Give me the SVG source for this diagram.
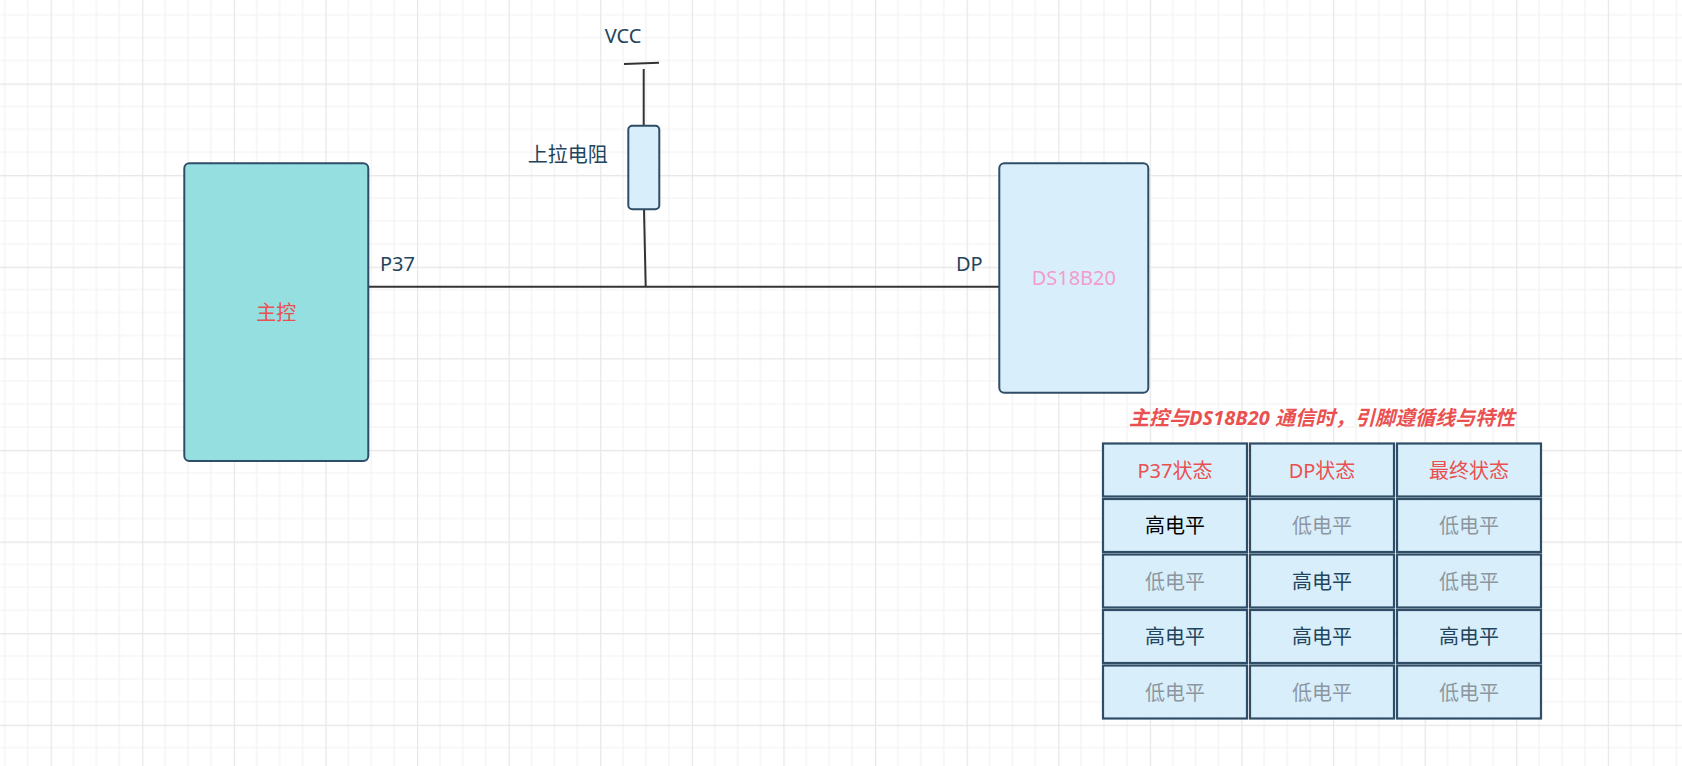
<svg xmlns="http://www.w3.org/2000/svg" width="1682" height="766" viewBox="0 0 1682 766">
<style>
.t{font-family:"Noto Sans","Noto Sans CJK SC",sans-serif;font-size:20px}
.lbl{fill:#23445d}
.red{fill:#ea5050}
.gray{fill:#8c96a0}
.dk{fill:#23445d}
.blk{fill:#000000}
.box{stroke:#2f4d66;stroke-width:2}
.cell{fill:#d8effb;stroke:#2f4d66;stroke-width:2.2}
.wire{stroke:#333333;stroke-width:2;fill:none}
</style>
<defs>
<pattern id="grid" patternUnits="userSpaceOnUse" x="50.6" y="83.5" width="91.6" height="91.6">
<rect width="91.6" height="91.6" fill="#ffffff"/>
<path d="M22.9 0V91.6M45.8 0V91.6M68.7 0V91.6M0 22.9H91.6M0 45.8H91.6M0 68.7H91.6" stroke="#f2f2f2" stroke-width="1.2"/>
<path d="M0.5 0V91.6M0 0.5H91.6" stroke="#e6e6e6" stroke-width="1.3"/>
</pattern>
</defs>
<rect width="1682" height="766" fill="url(#grid)"/>

<g id="connectors">
<line class="wire" x1="368.3" y1="286.7" x2="999.3" y2="286.7"/>
<line class="wire" x1="624" y1="64" x2="659" y2="62.7"/>
<line class="wire" x1="643.7" y1="69" x2="643.7" y2="125.7"/>
<line class="wire" x1="644" y1="209.3" x2="645.7" y2="286.7"/>
</g>

<g id="node-main">
<rect class="box" x="184.3" y="163.3" width="184" height="297.7" rx="5" fill="#95dfe1"/>
<text class="t red" x="276.3" y="320" text-anchor="middle">主控</text>
</g>

<g id="node-ds18b20">
<rect class="box" x="999.3" y="163.3" width="149" height="229.4" rx="5" fill="#d8effb"/>
<text class="t" x="1073.8" y="285" text-anchor="middle" fill="#f29ccb">DS18B20</text>
</g>

<g id="node-resistor">
<rect class="box" x="628.3" y="125.7" width="31" height="83.6" rx="4" fill="#d8effb"/>
</g>

<g id="labels">
<text class="t lbl" x="623" y="43" text-anchor="middle">VCC</text>
<text class="t lbl" x="607.7" y="161.6" text-anchor="end">上拉电阻</text>
<text class="t lbl" x="380" y="270.7">P37</text>
<text class="t lbl" x="956" y="271">DP</text>
</g>

<g id="table">
<text class="t red" x="1322" y="424.5" text-anchor="middle" font-weight="bold" font-style="italic">主控与DS18B20 通信时，引脚遵循线与特性</text>
<rect class="cell" x="1103" y="443.5" width="144" height="53"/>
<rect class="cell" x="1250" y="443.5" width="144" height="53"/>
<rect class="cell" x="1397" y="443.5" width="144" height="53"/>
<rect class="cell" x="1103" y="499" width="144" height="53"/>
<rect class="cell" x="1250" y="499" width="144" height="53"/>
<rect class="cell" x="1397" y="499" width="144" height="53"/>
<rect class="cell" x="1103" y="554.5" width="144" height="53"/>
<rect class="cell" x="1250" y="554.5" width="144" height="53"/>
<rect class="cell" x="1397" y="554.5" width="144" height="53"/>
<rect class="cell" x="1103" y="610" width="144" height="53"/>
<rect class="cell" x="1250" y="610" width="144" height="53"/>
<rect class="cell" x="1397" y="610" width="144" height="53"/>
<rect class="cell" x="1103" y="665.5" width="144" height="53"/>
<rect class="cell" x="1250" y="665.5" width="144" height="53"/>
<rect class="cell" x="1397" y="665.5" width="144" height="53"/>

<text class="t red" x="1175" y="477.6" text-anchor="middle">P37状态</text>
<text class="t red" x="1322" y="477.6" text-anchor="middle">DP状态</text>
<text class="t red" x="1469" y="477.6" text-anchor="middle">最终状态</text>

<text class="t blk" x="1175" y="533.1" text-anchor="middle">高电平</text>
<text class="t gray" x="1322" y="533.1" text-anchor="middle">低电平</text>
<text class="t gray" x="1469" y="533.1" text-anchor="middle">低电平</text>

<text class="t gray" x="1175" y="588.6" text-anchor="middle">低电平</text>
<text class="t dk" x="1322" y="588.6" text-anchor="middle">高电平</text>
<text class="t gray" x="1469" y="588.6" text-anchor="middle">低电平</text>

<text class="t dk" x="1175" y="644.1" text-anchor="middle">高电平</text>
<text class="t dk" x="1322" y="644.1" text-anchor="middle">高电平</text>
<text class="t dk" x="1469" y="644.1" text-anchor="middle">高电平</text>

<text class="t gray" x="1175" y="699.6" text-anchor="middle">低电平</text>
<text class="t gray" x="1322" y="699.6" text-anchor="middle">低电平</text>
<text class="t gray" x="1469" y="699.6" text-anchor="middle">低电平</text>
</g>
</svg>
